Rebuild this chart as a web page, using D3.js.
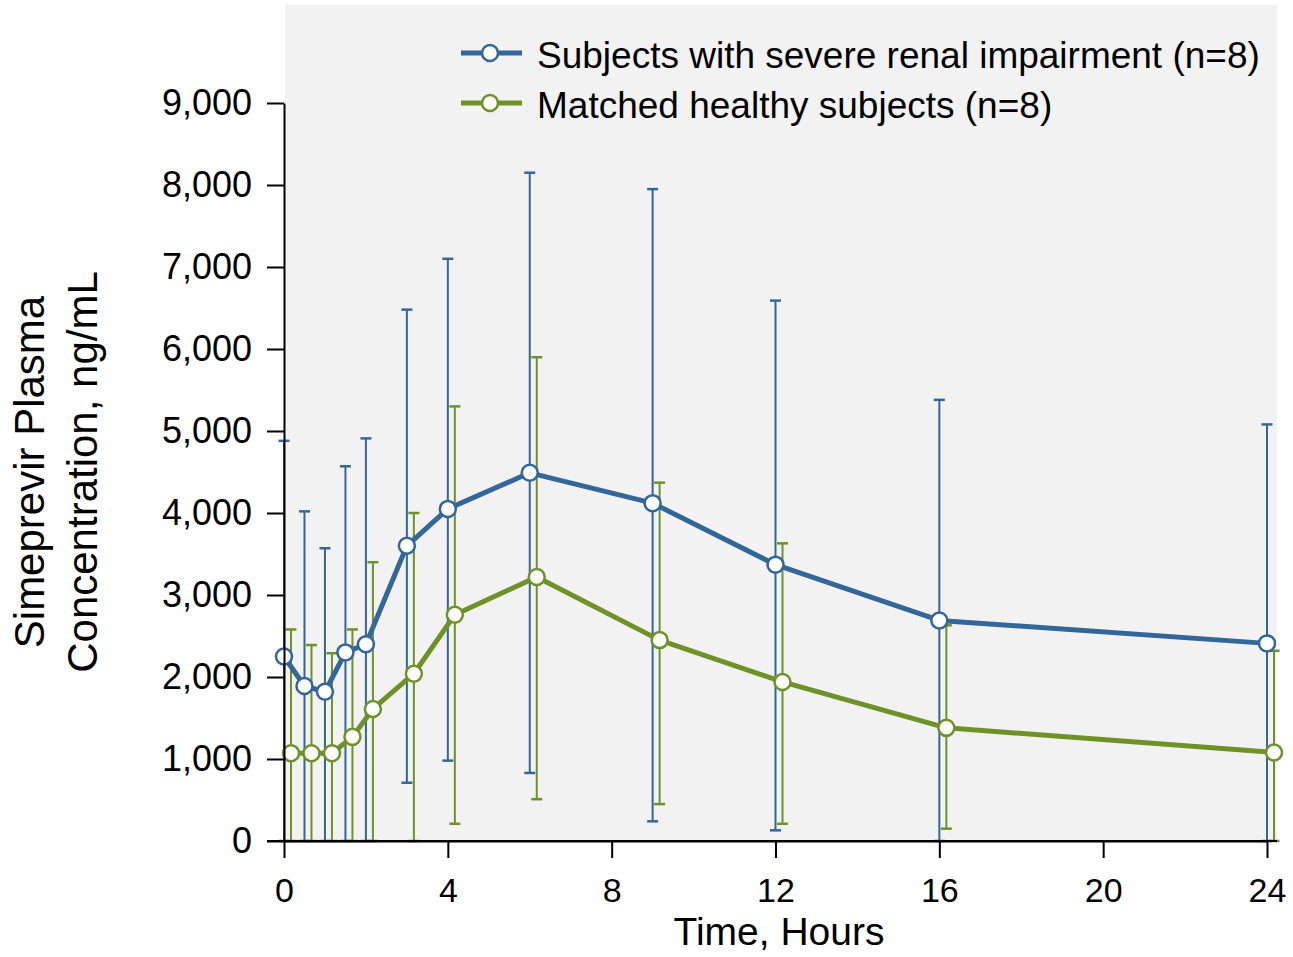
<!DOCTYPE html>
<html>
<head>
<meta charset="utf-8">
<script src="https://cdn.jsdelivr.net/npm/d3@7"></script>
<style>
  body { margin: 0; background: #fff; }
  text { font-family: "Liberation Sans", Arial, sans-serif; fill: #000; }
</style>
</head>
<body>
<div class="chart"></div>
<script>
// data
var times = [0, 0.5, 1, 1.5, 2, 3, 4, 6, 9, 12, 16, 24];
var renalMean = [2250, 1890, 1820, 2300, 2400, 3600, 4050, 4490, 4120, 3370, 2690, 2410];
var renalUpper = [4880, 4020, 3570, 4570, 4910, 6480, 7100, 8150, 7950, 6590, 5380, 5080];
var renalLower = [0, 0, 0, 0, 0, 710, 980, 830, 240, 130, 0, 0];
var healthyMean = [1070, 1070, 1070, 1270, 1610, 2040, 2760, 3220, 2450, 1940, 1380, 1080];
var healthyUpper = [2580, 2390, 2290, 2580, 3400, 4000, 5300, 5900, 4370, 3630, 2630, 2320];
var healthyLower = [0, 0, 0, 0, 0, 0, 210, 510, 450, 210, 150, 0];
var xTicks = [0, 4, 8, 12, 16, 20, 24];
var yTicks = [0, 1000, 2000, 3000, 4000, 5000, 6000, 7000, 8000, 9000];
var seriesNames = ["Subjects with severe renal impairment (n=8)", "Matched healthy subjects (n=8)"];

var blue = "#336699", green = "#6f9226";

var width = 1293, height = 957;
var svg = d3.select("div.chart").append("svg")
  .attr("width", width)
  .attr("height", height);

var x = d3.scaleLinear().domain([0, 24]).range([284, 1267]);
var y = d3.scaleLinear().domain([0, 9000]).range([841, 103]);

// grey plot background
svg.append("rect")
  .attr("x", 285).attr("y", 5)
  .attr("width", 1277 - 285).attr("height", 841 - 5)
  .style("fill", "#f2f2f2");

var series = [
  { name: seriesNames[0], color: blue, dodge: 0, mean: renalMean, lo: renalLower, hi: renalUpper },
  { name: seriesNames[1], color: green, dodge: 7, mean: healthyMean, lo: healthyLower, hi: healthyUpper }
];

series.forEach(function (s) {
  s.pts = times.map(function (t, i) {
    return { t: t, m: s.mean[i], lo: s.lo[i], hi: s.hi[i] };
  });
});

// error bars
series.forEach(function (s) {
  var g = svg.append("g").style("stroke", s.color).style("stroke-width", 2).style("fill", "none");
  s.pts.forEach(function (d) {
    var cx = x(d.t) + s.dodge;
    g.append("line").attr("x1", cx).attr("x2", cx).attr("y1", y(d.lo)).attr("y2", y(d.hi));
    g.append("line").attr("x1", cx - 5.5).attr("x2", cx + 5.5).attr("y1", y(d.hi)).attr("y2", y(d.hi)).style("stroke-width", 2.5);
    g.append("line").attr("x1", cx - 5.5).attr("x2", cx + 5.5).attr("y1", y(d.lo)).attr("y2", y(d.lo)).style("stroke-width", 2.5);
  });
});

// lines
var line = d3.line();
series.forEach(function (s) {
  svg.append("path")
    .attr("d", line(s.pts.map(function (d) { return [x(d.t) + s.dodge, y(d.m)]; })))
    .style("fill", "none")
    .style("stroke", s.color)
    .style("stroke-width", 5)
    .style("stroke-linejoin", "round");
});

// markers
series.forEach(function (s) {
  svg.selectAll(null)
    .data(s.pts)
    .enter().append("circle")
    .attr("cx", function (d) { return x(d.t) + s.dodge; })
    .attr("cy", function (d) { return y(d.m); })
    .attr("r", 8)
    .style("fill", "#fff")
    .style("stroke", s.color)
    .style("stroke-width", 2.5);
});

// axes
var yAxis = svg.append("g")
  .attr("transform", "translate(284,0)")
  .call(d3.axisLeft(y).tickValues(yTicks).tickFormat(d3.format(",")).tickSize(17).tickSizeOuter(0).tickPadding(15));
var xAxis = svg.append("g")
  .attr("transform", "translate(0,841)")
  .call(d3.axisBottom(x).tickValues(xTicks).tickSize(17).tickSizeOuter(0).tickPadding(20));
svg.append("line")
  .attr("x1", 267).attr("x2", 1277).attr("y1", 841).attr("y2", 841)
  .style("stroke", "#000").style("stroke-width", 2);

[yAxis, xAxis].forEach(function (a) {
  a.select(".domain").style("stroke", "#000").style("stroke-width", 2);
  a.selectAll(".tick line").style("stroke", "#000").style("stroke-width", 2);
  a.selectAll(".tick text").style("fill", "#000")
    .style("font-family", "'Liberation Sans', Arial, sans-serif");
});
yAxis.selectAll(".tick text").style("font-size", "36px");
xAxis.selectAll(".tick text").style("font-size", "34px");

// axis titles
svg.append("text")
  .attr("x", 779).attr("y", 945)
  .style("text-anchor", "middle")
  .style("font-size", "39px")
  .text("Time, Hours");

var yt = svg.append("text")
  .attr("transform", "translate(44,472) rotate(-90)")
  .style("text-anchor", "middle")
  .style("font-size", "42px");
yt.append("tspan").attr("x", 0).attr("y", 0).text("Simeprevir Plasma");
yt.append("tspan").attr("x", 0).attr("y", 53).text("Concentration, ng/mL");

// legend
series.forEach(function (s, i) {
  var ly = 53 + i * 50;
  svg.append("line")
    .attr("x1", 461).attr("x2", 522).attr("y1", ly).attr("y2", ly)
    .style("stroke", s.color).style("stroke-width", 5);
  svg.append("circle")
    .attr("cx", 490).attr("cy", ly).attr("r", 8)
    .style("fill", "#fff").style("stroke", s.color).style("stroke-width", 2.5);
  svg.append("text")
    .attr("x", 537).attr("y", ly + 15)
    .style("font-size", "37px")
    .text(s.name);
});
</script>
</body>
</html>
